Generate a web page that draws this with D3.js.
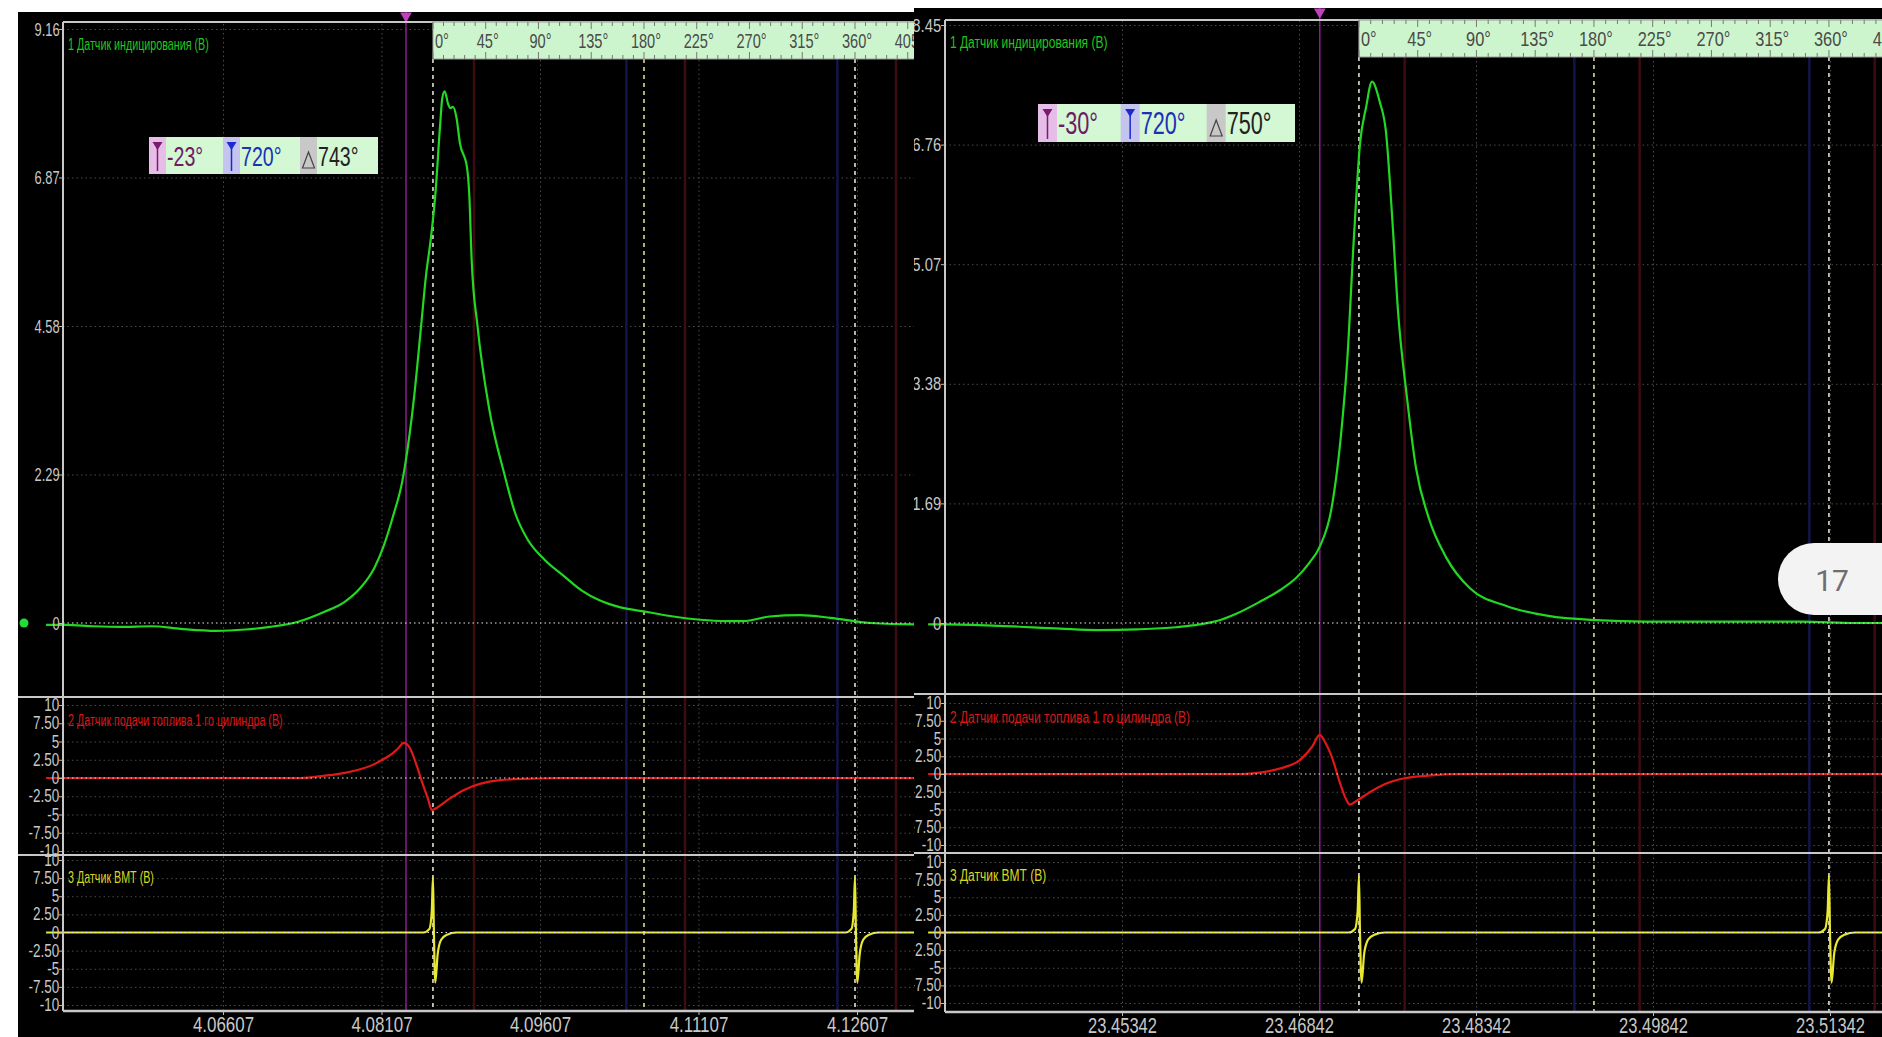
<!DOCTYPE html>
<html>
<head>
<meta charset="utf-8">
<script src="https://cdn.jsdelivr.net/npm/d3@7"></script>
<style>
  body { margin: 0; background: #fff; }
  svg { display: block; }
  text { font-family: "Liberation Sans", Arial, sans-serif; }
</style>
</head>
<body>
<svg id="chart" width="1882" height="1037"></svg>
<script>
// ---- shared values ----
const degTicks = [0, 45, 90, 135, 180, 225, 270, 315, 360, 405, 450];
const redMarkDeg = [35, 215, 395];
const blueMarkDeg = [165, 345];
const lowerTicks = [10, 7.5, 5, 2.5, 0, -2.5, -5, -7.5, -10];
const lowerTickLabels = ["10", "7.50", "5", "2.50", "0", "-2.50", "-5", "-7.50", "-10"];
const channelNames = [
  "1 Датчик индицирования (В)",
  "2 Датчик подачи топлива 1 го цилиндра (В)",
  "3 Датчик ВМТ (В)"
];

// ---- left screenshot ----
const leftTimeTicks = [4.06607, 4.08107, 4.09607, 4.11107, 4.12607];
const leftCh1Ticks = [0, 2.29, 4.58, 6.87, 9.16];
const leftTdcTime = 4.08594;   // time of 0°
const leftRevTime = 0.03994;   // time of 360°
const leftCursorDeg = -23;
const leftReadout = ["-23°", "720°", "743°"];

// pressure sensor (crank angle, volts)
const leftPressDeg = [-330, -313, -290, -267, -240, -215, -185, -160, -139, -115, -93, -75, -62, -50, -42, -34, -26, -20, -16, -10, -6, -2, 2, 6, 8, 10, 13, 15, 17, 20, 23, 29, 31, 33, 38, 48, 61, 70, 81, 95, 112, 127, 142, 160, 183, 205, 228, 250, 265, 287, 313, 339, 373, 409, 440];
const leftPressV   = [-0.03, -0.03, -0.05, -0.06, -0.05, -0.09, -0.12, -0.10, -0.06, 0.02, 0.17, 0.33, 0.54, 0.85, 1.19, 1.65, 2.2, 2.9, 3.5, 4.6, 5.35, 5.9, 6.6, 7.65, 8.1, 8.2, 8.0, 7.94, 7.96, 7.8, 7.4, 7.03, 6.6, 5.6, 4.58, 3.3, 2.29, 1.7, 1.28, 0.98, 0.72, 0.5, 0.35, 0.24, 0.17, 0.1, 0.05, 0.03, 0.03, 0.1, 0.12, 0.08, 0.0, -0.02, -0.02];
// injector sensor
const leftInjDeg = [-330, -113, -93, -75, -62, -50, -42, -35, -30, -25, -20, -14.5, -9.4, -4, -1, 4, 14.5, 27, 40, 57, 83, 108, 440];
const leftInjV   = [0, 0, 0.3, 0.7, 1.2, 1.9, 2.6, 3.3, 4.0, 4.8, 4.2, 2.0, -0.5, -3.0, -4.4, -4.0, -2.8, -1.6, -0.8, -0.3, -0.1, 0, 0];
// TDC sensor
const leftTdcDeg = [-330, -8, -3, -1, 0, 0.8, 2, 4, 7, 12, 20, 352, 357, 359, 360, 360.8, 362, 364, 367, 372, 380, 440];
const leftTdcV   = [0, 0, 0.5, 3, 7.6, 0, -6.9, -3, -1, -0.3, 0, 0, 0.5, 3, 7.6, 0, -6.9, -3, -1, -0.3, 0, 0];

// ---- right screenshot ----
const rightTimeTicks = [23.45342, 23.46842, 23.48342, 23.49842, 23.51342];
const rightCh1Ticks = [0, 1.69, 3.38, 5.07, 6.76, 8.45];
const rightTdcTime = 23.47350;
const rightRevTime = 0.03983;
const rightCursorDeg = -30;
const rightReadout = ["-30°", "720°", "750°"];

const rightPressDeg = [-330, -317, -275, -229, -200, -170, -140, -122, -105, -94, -76, -60, -48, -38, -30, -21, -13, -9, -4, 0.8, 5.4, 10, 16, 20.7, 25.4, 30, 36.7, 43.7, 53, 67, 85, 113, 145, 182, 220, 260, 300, 340, 380, 420, 440];
const rightPressV   = [-0.02, -0.02, -0.04, -0.08, -0.10, -0.09, -0.06, -0.02, 0.05, 0.13, 0.3, 0.47, 0.64, 0.85, 1.08, 1.62, 2.8, 3.7, 5.4, 6.77, 7.28, 7.65, 7.36, 6.94, 5.75, 4.39, 3.2, 2.19, 1.51, 0.92, 0.49, 0.24, 0.10, 0.04, 0.02, 0.02, 0.02, 0.02, 0.0, 0.0, 0.0];
const rightInjDeg = [-330, -90, -76, -60, -45, -36, -30, -26, -20, -15, -10, -7, -2, 8, 20, 35, 55, 80, 440];
const rightInjV   = [0, 0, 0.2, 0.8, 2.0, 3.8, 5.5, 4.5, 2.0, -1.0, -3.5, -4.3, -3.8, -2.6, -1.4, -0.6, -0.2, 0, 0];
const rightTdcDeg = [-330, -8, -3, -1, 0, 0.8, 2, 4, 7, 12, 20, 352, 357, 359, 360, 360.8, 362, 364, 367, 372, 380, 440];
const rightTdcV   = [0, 0, 0.5, 3, 8.0, 0, -7.1, -3, -1, -0.3, 0, 0, 0.5, 3, 8.0, 0, -7.1, -3, -1, -0.3, 0, 0];

const svg = d3.select("#chart");
const defs = svg.append("defs");

const screens = [
  {
    id: "left", clip: [18, 12, 896, 1025],
    plotLeft: 63, plotRight: 940, plotTop: 22, sep1: 697, sep2: 855, bottom: 1011,
    xRange: [223, 857], y1Range: [623, 29], y2Range: [851, 705], y3Range: [1005, 860],
    timeTicks: leftTimeTicks, ch1Ticks: leftCh1Ticks, tdcTime: leftTdcTime, revTime: leftRevTime,
    cursorDeg: leftCursorDeg, readout: leftReadout,
    press: [leftPressDeg, leftPressV], inj: [leftInjDeg, leftInjV], tdc: [leftTdcDeg, leftTdcV],
    barBottom: 59, sx: 1, box: [149, 137, 229, 37], boxFont: 28,
    y1Sq: 0.68, y2Sq: 0.77, xSq: 0.77, degSq: 0.73, chSq: 0.67, dot: true
  },
  {
    id: "right", clip: [914, 8, 968, 1029],
    plotLeft: 945, plotRight: 1900, plotTop: 20, sep1: 694, sep2: 853, bottom: 1012,
    xRange: [1122, 1830], y1Range: [623, 25], y2Range: [845, 703], y3Range: [1003, 862],
    timeTicks: rightTimeTicks, ch1Ticks: rightCh1Ticks, tdcTime: rightTdcTime, revTime: rightRevTime,
    cursorDeg: rightCursorDeg, readout: rightReadout,
    press: [rightPressDeg, rightPressV], inj: [rightInjDeg, rightInjV], tdc: [rightTdcDeg, rightTdcV],
    barBottom: 57, sx: 1.117, box: [1038, 104, 257, 38], boxFont: 31,
    y1Sq: 0.78, y2Sq: 0.77, xSq: 0.75, degSq: 0.82, chSq: 0.75, dot: false
  }
];

screens.forEach(cfg => {
  defs.append("clipPath").attr("id", cfg.id + "-clip")
    .append("rect")
      .attr("x", cfg.clip[0]).attr("y", cfg.clip[1])
      .attr("width", cfg.clip[2]).attr("height", cfg.clip[3]);

  const g = svg.append("g").attr("clip-path", "url(#" + cfg.id + "-clip)");

  g.append("rect")
    .attr("x", cfg.clip[0]).attr("y", cfg.clip[1])
    .attr("width", cfg.clip[2]).attr("height", cfg.clip[3])
    .attr("fill", "#000");

  // scales
  const x = d3.scaleLinear().domain([cfg.timeTicks[0], cfg.timeTicks[4]]).range(cfg.xRange);
  const degX = d => x(cfg.tdcTime + d / 360 * cfg.revTime);
  const y1 = d3.scaleLinear().domain([0, cfg.ch1Ticks[cfg.ch1Ticks.length - 1]]).range(cfg.y1Range);
  const y2 = d3.scaleLinear().domain([-10, 10]).range(cfg.y2Range);
  const y3 = d3.scaleLinear().domain([-10, 10]).range(cfg.y3Range);

  const plotW = cfg.plotRight - cfg.plotLeft;

  // text placed at (px, py), squeezed horizontally like the narrow font of the original
  const label = (parent, px, py, s) => parent.append("text")
    .attr("transform", "translate(" + px + "," + py + ") scale(" + s + ",1)");

  // horizontal dotted grid
  const hGrid = (scale, ticks) => {
    g.append("g")
      .attr("transform", "translate(" + cfg.plotLeft + ",0)")
      .call(d3.axisLeft(scale).tickValues(ticks).tickSize(-plotW).tickFormat(""))
      .call(a => a.select(".domain").remove())
      .call(a => a.selectAll(".tick line")
        .attr("stroke", "#4a4a4a")
        .attr("stroke-dasharray", "1.5,3"));
  };
  hGrid(y1, cfg.ch1Ticks.slice(1));
  hGrid(y2, lowerTicks.filter(v => v !== 0));
  hGrid(y3, lowerTicks.filter(v => v !== 0));

  // vertical time grid
  g.append("g")
    .attr("transform", "translate(0," + cfg.bottom + ")")
    .call(d3.axisBottom(x).tickValues(cfg.timeTicks).tickSize(-(cfg.bottom - cfg.plotTop)).tickFormat(""))
    .call(a => a.select(".domain").remove())
    .call(a => a.selectAll(".tick line").attr("stroke", "#4a4a4a").attr("stroke-dasharray", "1.5,3"));

  // cylinder markers
  g.selectAll(".redmark").data(redMarkDeg).enter().append("line")
    .attr("x1", degX).attr("x2", degX)
    .attr("y1", cfg.barBottom).attr("y2", cfg.bottom)
    .attr("stroke", "#3e0c10").attr("stroke-width", 2.5);
  g.selectAll(".bluemark").data(blueMarkDeg).enter().append("line")
    .attr("x1", degX).attr("x2", degX)
    .attr("y1", cfg.barBottom).attr("y2", cfg.bottom)
    .attr("stroke", "#14144a").attr("stroke-width", 2.5);

  // TDC dashed lines
  g.selectAll(".tdcline").data([0, 180, 360]).enter().append("line")
    .attr("x1", degX).attr("x2", degX)
    .attr("y1", cfg.barBottom).attr("y2", cfg.bottom)
    .attr("stroke", d => d === 180 ? "#e8e69a" : "#eeeedd")
    .attr("stroke-width", 1.5)
    .attr("stroke-dasharray", "4,4");

  // cursor line
  g.append("line")
    .attr("x1", degX(cfg.cursorDeg)).attr("x2", degX(cfg.cursorDeg))
    .attr("y1", cfg.clip[1]).attr("y2", cfg.bottom)
    .attr("stroke", "#8e1c8e").attr("stroke-width", 1.5);
  g.append("path")
    .attr("d", d3.symbol(d3.symbolTriangle, 60)())
    .attr("transform", "translate(" + degX(cfg.cursorDeg) + "," + (cfg.clip[1] + 4) + ") rotate(180)")
    .attr("fill", "#c040c0");

  // signals
  const drawSig = (data, ys, color) => {
    const pts = data[0].map((d, i) => [d, data[1][i]]);
    g.append("path")
      .datum(pts)
      .attr("fill", "none")
      .attr("stroke", color)
      .attr("stroke-width", 2.2)
      .attr("d", d3.line().x(d => degX(d[0])).y(d => ys(d[1])).curve(d3.curveMonotoneX));
  };
  drawSig(cfg.press, y1, "#22d822");
  drawSig(cfg.inj, y2, "#e01818");
  drawSig(cfg.tdc, y3, "#e8e830");

  // zero lines on top
  [y1, y2, y3].forEach(s => {
    g.append("line")
      .attr("x1", cfg.plotLeft).attr("x2", cfg.plotRight)
      .attr("y1", s(0)).attr("y2", s(0))
      .attr("stroke", "#e8e8e8").attr("stroke-width", 1)
      .attr("stroke-dasharray", "1.5,3");
  });

  // borders
  g.append("line").attr("x1", cfg.plotLeft).attr("x2", cfg.plotLeft)
    .attr("y1", cfg.plotTop).attr("y2", cfg.bottom).attr("stroke", "#c8c8c8").attr("stroke-width", 2);
  g.append("line").attr("x1", cfg.plotLeft).attr("x2", cfg.plotRight)
    .attr("y1", cfg.plotTop).attr("y2", cfg.plotTop).attr("stroke", "#c8c8c8").attr("stroke-width", 2);
  [cfg.sep1, cfg.sep2].forEach(v => {
    g.append("line").attr("x1", cfg.clip[0]).attr("x2", cfg.plotRight)
      .attr("y1", v).attr("y2", v).attr("stroke", "#c8c8c8").attr("stroke-width", 2);
  });
  g.append("line").attr("x1", cfg.plotLeft).attr("x2", cfg.plotRight)
    .attr("y1", cfg.bottom).attr("y2", cfg.bottom).attr("stroke", "#c8c8c8").attr("stroke-width", 2.5);

  // y axes
  const yAxis = (scale, ticks, fmt, size, sq) => {
    g.append("g")
      .attr("transform", "translate(" + cfg.plotLeft + ",0)")
      .call(d3.axisLeft(scale).tickValues(ticks).tickSize(4).tickPadding(1).tickFormat(fmt))
      .call(a => a.select(".domain").remove())
      .call(a => a.selectAll(".tick line").attr("stroke", "#bbb"))
      .call(a => a.selectAll(".tick text")
        .attr("fill", "#c8c8c8")
        .attr("transform", "scale(" + sq + ",1)")
        .style("font-size", size + "px").style("font-family", "'Liberation Sans', Arial, sans-serif"));
  };
  yAxis(y1, cfg.ch1Ticks, d => d === 0 ? "0" : d3.format(".2f")(d), 19, cfg.y1Sq);
  yAxis(y2, lowerTicks, (d, i) => lowerTickLabels[i], 17.5, cfg.y2Sq);
  yAxis(y3, lowerTicks, (d, i) => lowerTickLabels[i], 17.5, cfg.y2Sq);

  // x axis
  g.append("g")
    .attr("transform", "translate(0," + cfg.bottom + ")")
    .call(d3.axisBottom(x).tickValues(cfg.timeTicks).tickSize(4).tickPadding(1).tickFormat(d3.format(".5f")))
    .call(a => a.select(".domain").remove())
    .call(a => a.selectAll(".tick line").attr("stroke", "#bbb"))
    .call(a => a.selectAll(".tick text")
      .attr("fill", "#c8c8c8")
      .attr("transform", "scale(" + cfg.xSq + ",1)")
      .style("font-size", "22px").style("font-family", "'Liberation Sans', Arial, sans-serif"));

  // degree bar
  const bar = g.append("g");
  const barX = degX(0);
  bar.append("rect")
    .attr("x", barX).attr("y", cfg.plotTop)
    .attr("width", cfg.plotRight - barX).attr("height", cfg.barBottom - cfg.plotTop)
    .attr("fill", "#cdf5cd").attr("stroke", "#9a9a9a").attr("stroke-width", 1);
  const minor = d3.range(0, 451, 9);
  bar.selectAll(".mt").data(minor).enter().append("line")
    .attr("x1", degX).attr("x2", degX)
    .attr("y1", cfg.plotTop).attr("y2", d => cfg.plotTop + (d % 45 === 0 ? 7 : 4))
    .attr("stroke", "#777").attr("stroke-width", 1);
  bar.selectAll(".mb").data(minor).enter().append("line")
    .attr("x1", degX).attr("x2", degX)
    .attr("y1", cfg.barBottom).attr("y2", d => cfg.barBottom - (d % 45 === 0 ? 7 : 4))
    .attr("stroke", "#777").attr("stroke-width", 1);
  degTicks.forEach(d => {
    label(bar, degX(d) + 2, (cfg.plotTop + cfg.barBottom) / 2 + 7, cfg.degSq)
      .attr("text-anchor", d === 0 ? "start" : "middle")
      .attr("fill", "#4a4a4a")
      .style("font-size", "20px")
      .text(d + "°");
  });

  // channel names
  const chColors = ["#1fc81f", "#d81818", "#d8d820"];
  const chY = [cfg.plotTop + 28, cfg.sep1 + 29, cfg.sep2 + 28];
  channelNames.forEach((n, i) => {
    label(g, cfg.plotLeft + 5, chY[i], cfg.chSq)
      .attr("fill", chColors[i])
      .style("font-size", "16px")
      .text(n);
  });

  // cursor readout box
  const [bx, by, bw, bh] = cfg.box;
  const rb = g.append("g").attr("transform", "translate(" + bx + "," + by + ")");
  rb.append("rect").attr("width", bw).attr("height", bh).attr("fill", "#d4f7d4");
  const secX = [0, 74, 151].map(v => v * cfg.sx);
  const secW = 17 * cfg.sx;
  const secFill = ["#e6bde6", "#c4c4ee", "#c8c8c8"];
  const txtFill = ["#6e1a64", "#1a32b4", "#222"];
  secX.forEach((sx0, i) => {
    rb.append("rect").attr("x", sx0).attr("width", secW).attr("height", bh).attr("fill", secFill[i]);
    const cx = sx0 + secW / 2;
    if (i < 2) {
      const col = i === 0 ? "#7a1a70" : "#1a2ad0";
      rb.append("path")
        .attr("d", "M" + (cx - 5) + ",5L" + (cx + 5) + ",5L" + cx + ",13Z")
        .attr("fill", col);
      rb.append("line").attr("x1", cx).attr("x2", cx).attr("y1", 10).attr("y2", bh - 3)
        .attr("stroke", col).attr("stroke-width", 1.5);
    } else {
      rb.append("path")
        .attr("d", "M" + (cx - 6) + "," + (bh - 6) + "L" + (cx + 6) + "," + (bh - 6) + "L" + cx + "," + (bh - 22) + "Z")
        .attr("fill", "none").attr("stroke", "#444").attr("stroke-width", 1.2);
    }
    label(rb, sx0 + secW + 1, bh / 2 + cfg.boxFont * 0.36, 0.7)
      .attr("fill", txtFill[i])
      .style("font-size", cfg.boxFont + "px")
      .text(cfg.readout[i]);
  });

  if (cfg.dot) {
    g.append("circle").attr("cx", cfg.clip[0] + 6).attr("cy", y1(0)).attr("r", 4.5).attr("fill", "#22dd33");
  }
});

// page overlay bubble
const bub = svg.append("g");
bub.append("rect")
  .attr("x", 1778).attr("y", 543).attr("width", 150).attr("height", 72).attr("rx", 36)
  .attr("fill", "#f3f3f3");
bub.append("text")
  .attr("x", 1832).attr("y", 591)
  .attr("text-anchor", "middle")
  .attr("fill", "#6e6e6e")
  .style("font-family", "Roboto, sans-serif")
  .style("font-size", "30px")
  .text("17");
</script>
</body>
</html>
